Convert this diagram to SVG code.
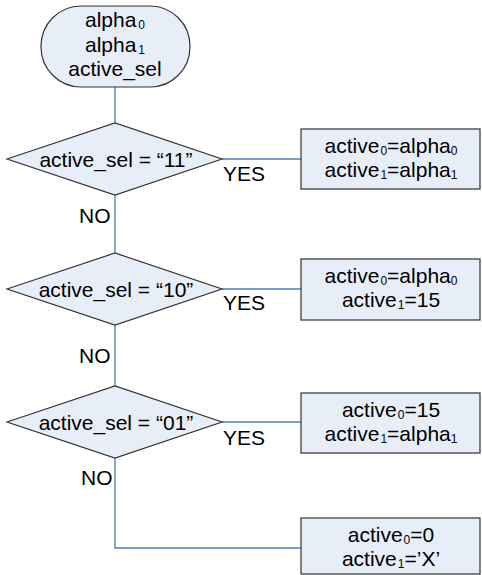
<svg xmlns="http://www.w3.org/2000/svg" width="482" height="575" viewBox="0 0 482 575">
<style>
.shape{fill:#e8eef8;stroke:#333;stroke-width:1.2}
.box{fill:#e8eef8;stroke:#404040;stroke-width:1.3}
.conn{fill:none;stroke:#4a7ebb;stroke-width:1.3}
text{font-family:"Liberation Sans",Arial,sans-serif;font-size:21px;fill:#000}
.c{text-anchor:middle}
.sub{font-size:12px}
</style>
<rect width="482" height="575" fill="#fff"/>
<g id="connectors">
<line class="conn" x1="115" y1="87" x2="115" y2="123"/>
<line class="conn" x1="115" y1="195" x2="115" y2="253"/>
<line class="conn" x1="115" y1="325" x2="115" y2="386"/>
<polyline class="conn" points="115,458 115,548 301,548"/>
<line class="conn" x1="222" y1="159" x2="301" y2="159"/>
<line class="conn" x1="222" y1="289" x2="301" y2="289"/>
<line class="conn" x1="222" y1="422" x2="301" y2="422"/>
<text x="223" y="181">YES</text>
<text x="223" y="310">YES</text>
<text x="223" y="445">YES</text>
<text x="79" y="223">NO</text>
<text x="79" y="363">NO</text>
<text x="81" y="485">NO</text>
</g>
<g id="start">
<rect class="shape" x="41" y="6" width="149" height="81" rx="40" ry="40"/>
<text class="c" x="115" y="27">alpha<tspan class="sub" dx="2" dy="2">0</tspan></text>
<text class="c" x="115" y="52">alpha<tspan class="sub" dx="2" dy="2">1</tspan></text>
<text class="c" x="115" y="76">active_sel</text>
</g>
<g id="dec1">
<polygon class="shape" points="7,159 115,123 222,159 115,195"/>
<text class="c" x="116" y="167">active_sel = “11”</text>
</g>
<g id="dec2">
<polygon class="shape" points="7,289 115,253 222,289 115,325"/>
<text class="c" x="116" y="297">active_sel = “10”</text>
</g>
<g id="dec3">
<polygon class="shape" points="7,422 115,386 222,422 115,458"/>
<text class="c" x="116" y="430">active_sel = “01”</text>
</g>
<g id="box1">
<rect class="box" x="301" y="129" width="179" height="60"/>
<text class="c" x="391" y="153">active<tspan class="sub" dx="1" dy="2">0</tspan><tspan dy="-2">=alpha</tspan><tspan class="sub" dy="2">0</tspan></text>
<text class="c" x="391" y="177">active<tspan class="sub" dx="1" dy="2">1</tspan><tspan dy="-2">=alpha</tspan><tspan class="sub" dy="2">1</tspan></text>
</g>
<g id="box2">
<rect class="box" x="301" y="259" width="179" height="61"/>
<text class="c" x="391" y="283">active<tspan class="sub" dx="1" dy="2">0</tspan><tspan dy="-2">=alpha</tspan><tspan class="sub" dy="2">0</tspan></text>
<text class="c" x="391" y="307">active<tspan class="sub" dx="1" dy="2">1</tspan><tspan dy="-2">=15</tspan></text>
</g>
<g id="box3">
<rect class="box" x="301" y="393" width="179" height="60"/>
<text class="c" x="391" y="417">active<tspan class="sub" dx="1" dy="2">0</tspan><tspan dy="-2">=15</tspan></text>
<text class="c" x="391" y="441">active<tspan class="sub" dx="1" dy="2">1</tspan><tspan dy="-2">=alpha</tspan><tspan class="sub" dy="2">1</tspan></text>
</g>
<g id="box4">
<rect class="box" x="301" y="518" width="179" height="56"/>
<text class="c" x="391" y="542">active<tspan class="sub" dx="1" dy="2">0</tspan><tspan dy="-2">=0</tspan></text>
<text class="c" x="391" y="566">active<tspan class="sub" dx="1" dy="2">1</tspan><tspan dy="-2">=’X’</tspan></text>
</g>
</svg>
